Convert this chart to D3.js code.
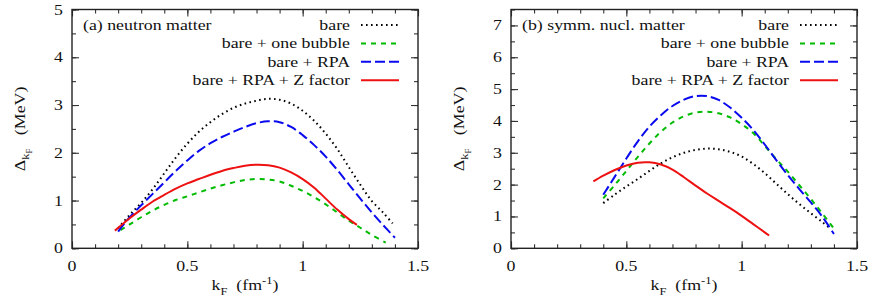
<!DOCTYPE html>
<html>
<head>
<meta charset="utf-8">
<script src="https://cdn.jsdelivr.net/npm/d3@7"></script>
<style>
  body { margin: 0; background: #fff; }
</style>
</head>
<body>
<svg id="chart" width="872" height="303"></svg>
<script>
// ---- data: [kF (fm^-1), gap (MeV)] ----
var neutronBare = [[0.20,0.42],[0.25,0.70],[0.30,0.95],[0.35,1.24],[0.40,1.57],[0.45,1.90],[0.50,2.19],[0.55,2.44],[0.60,2.64],[0.65,2.81],[0.70,2.94],[0.75,3.03],[0.80,3.09],[0.85,3.13],[0.90,3.11],[0.95,3.03],[1.00,2.88],[1.05,2.67],[1.10,2.40],[1.15,2.08],[1.20,1.70],[1.25,1.33],[1.30,0.99],[1.35,0.74],[1.39,0.52]];
var neutronBubble = [[0.21,0.38],[0.25,0.50],[0.30,0.65],[0.35,0.79],[0.40,0.91],[0.45,1.01],[0.50,1.09],[0.55,1.17],[0.60,1.25],[0.65,1.32],[0.70,1.38],[0.75,1.43],[0.80,1.45],[0.85,1.44],[0.90,1.40],[0.95,1.31],[1.00,1.20],[1.05,1.07],[1.10,0.92],[1.15,0.75],[1.20,0.58],[1.25,0.43],[1.30,0.28],[1.36,0.12]];
var neutronRPA = [[0.20,0.35],[0.25,0.65],[0.30,0.90],[0.35,1.14],[0.40,1.38],[0.45,1.62],[0.50,1.84],[0.55,2.04],[0.60,2.20],[0.65,2.33],[0.70,2.44],[0.75,2.54],[0.80,2.62],[0.85,2.66],[0.90,2.64],[0.95,2.54],[1.00,2.37],[1.05,2.16],[1.10,1.92],[1.15,1.64],[1.20,1.34],[1.25,1.04],[1.30,0.75],[1.35,0.48],[1.40,0.22]];
var neutronZ = [[0.186,0.37],[0.25,0.63],[0.30,0.81],[0.35,0.98],[0.40,1.12],[0.45,1.25],[0.50,1.36],[0.55,1.45],[0.60,1.54],[0.65,1.62],[0.70,1.68],[0.75,1.73],[0.80,1.75],[0.85,1.74],[0.90,1.69],[0.95,1.59],[1.00,1.45],[1.05,1.27],[1.10,1.04],[1.15,0.81],[1.20,0.61],[1.235,0.49]];

var nuclBare = [[0.40,1.42],[0.45,1.69],[0.50,1.94],[0.55,2.18],[0.60,2.43],[0.65,2.67],[0.70,2.86],[0.75,3.00],[0.80,3.09],[0.85,3.13],[0.90,3.11],[0.95,3.03],[1.00,2.88],[1.05,2.65],[1.10,2.36],[1.15,2.03],[1.20,1.70],[1.25,1.39],[1.30,1.10],[1.35,0.82],[1.385,0.62]];
var nuclBubble = [[0.40,1.57],[0.45,1.99],[0.50,2.43],[0.55,2.87],[0.60,3.29],[0.65,3.66],[0.70,3.95],[0.75,4.15],[0.80,4.26],[0.85,4.29],[0.90,4.24],[0.95,4.11],[1.00,3.90],[1.05,3.62],[1.10,3.22],[1.15,2.80],[1.20,2.41],[1.25,1.98],[1.30,1.55],[1.35,1.09],[1.40,0.62]];
var nuclRPA = [[0.40,1.68],[0.45,2.25],[0.50,2.82],[0.55,3.36],[0.60,3.82],[0.65,4.18],[0.70,4.47],[0.75,4.67],[0.80,4.78],[0.85,4.78],[0.90,4.66],[0.95,4.42],[1.00,4.10],[1.05,3.72],[1.10,3.26],[1.15,2.77],[1.20,2.30],[1.25,1.86],[1.30,1.44],[1.35,0.99],[1.40,0.45]];
var nuclZ = [[0.357,2.10],[0.40,2.28],[0.45,2.46],[0.50,2.60],[0.55,2.69],[0.60,2.70],[0.65,2.63],[0.70,2.47],[0.75,2.23],[0.80,1.97],[0.85,1.72],[0.90,1.49],[0.95,1.26],[1.00,1.02],[1.05,0.76],[1.10,0.50],[1.119,0.40]];

var seriesNames = ["bare", "bare + one bubble", "bare + RPA", "bare + RPA + Z factor"];
var xTicks = [0, 0.5, 1, 1.5];
var yTicksA = [0, 1, 2, 3, 4, 5];
var yTicksB = [0, 1, 2, 3, 4, 5, 6, 7];

var styles = [
  {color: "#000000", dash: "1.6,3.4"},
  {color: "#00bb00", dash: "5,5"},
  {color: "#0a0aee", dash: "10,4"},
  {color: "#ee1111", dash: null}
];

var svg = d3.select("#chart");
var FONT = "Liberation Serif";
var FS = 15.5, SX = 1.15;  // picture is a bit stretched sideways

function label(g, x, y, txt, anchor){
  return g.append("text")
    .attr("transform", `translate(${x},${y}) scale(${SX},1)`)
    .attr("text-anchor", anchor || "start")
    .attr("font-family", FONT)
    .attr("font-size", FS)
    .attr("fill", "#111")
    .text(txt);
}

function drawPanel(opt){
  var x = d3.scaleLinear().domain([0, 1.5]).range([opt.left, opt.right]);
  var y = d3.scaleLinear().domain([0, opt.ymax]).range([opt.bottom, opt.top]);
  var g = svg.append("g");

  var minorX = d3.range(0, 1.501, 0.1);
  var minorY = d3.range(0, opt.ymax + 0.001, 0.5);

  // inward ticks, mirrored on all four sides
  var ax = g.append("g");
  ax.append("g").attr("transform", `translate(0,${opt.bottom})`)
    .call(d3.axisBottom(x).tickValues(minorX).tickSize(-4).tickFormat(""));
  ax.append("g").attr("transform", `translate(0,${opt.bottom})`)
    .call(d3.axisBottom(x).tickValues(xTicks).tickSize(-7).tickFormat(""));
  ax.append("g").attr("transform", `translate(0,${opt.top})`)
    .call(d3.axisTop(x).tickValues(minorX).tickSize(-4).tickFormat(""));
  ax.append("g").attr("transform", `translate(0,${opt.top})`)
    .call(d3.axisTop(x).tickValues(xTicks).tickSize(-7).tickFormat(""));
  ax.append("g").attr("transform", `translate(${opt.left},0)`)
    .call(d3.axisLeft(y).tickValues(minorY).tickSize(-4).tickFormat(""));
  ax.append("g").attr("transform", `translate(${opt.left},0)`)
    .call(d3.axisLeft(y).tickValues(opt.yTicks).tickSize(-7).tickFormat(""));
  ax.append("g").attr("transform", `translate(${opt.right},0)`)
    .call(d3.axisRight(y).tickValues(minorY).tickSize(-4).tickFormat(""));
  ax.append("g").attr("transform", `translate(${opt.right},0)`)
    .call(d3.axisRight(y).tickValues(opt.yTicks).tickSize(-7).tickFormat(""));
  ax.selectAll(".domain").remove();
  ax.selectAll(".tick text").remove();
  ax.selectAll(".tick line").attr("stroke", "#333").attr("stroke-width", 1.1);

  g.append("rect")
    .attr("x", opt.left).attr("y", opt.top)
    .attr("width", opt.right - opt.left).attr("height", opt.bottom - opt.top)
    .attr("fill", "none").attr("stroke", "#222").attr("stroke-width", 1.4);

  xTicks.forEach(v => label(g, x(v), opt.bottom + 23, String(v), "middle"));
  opt.yTicks.forEach(v => label(g, opt.left - 9, y(v) + 5, String(v), "end"));

  // curves
  var line = d3.line().x(d => x(d[0])).y(d => y(d[1])).curve(d3.curveCatmullRom.alpha(0.5));
  opt.series.forEach((s, i) => {
    g.append("path").datum(s)
      .attr("d", line)
      .attr("fill", "none")
      .attr("stroke", styles[i].color)
      .attr("stroke-width", 2)
      .attr("stroke-dasharray", styles[i].dash);
  });

  // legend
  seriesNames.forEach((name, i) => {
    var yy = 30 + i * 18.4;
    label(g, opt.legendX, yy, name, "end");
    g.append("line")
      .attr("x1", opt.legendX + 11).attr("x2", opt.legendX + 49)
      .attr("y1", yy - 5).attr("y2", yy - 5)
      .attr("stroke", styles[i].color)
      .attr("stroke-width", 2)
      .attr("stroke-dasharray", styles[i].dash);
  });
  label(g, opt.left + 11, 30, opt.title, "start");

  // axis titles
  var xt = g.append("text")
    .attr("transform", `translate(${(opt.left + opt.right) / 2},${290}) scale(${SX},1)`)
    .attr("text-anchor", "middle").attr("font-size", FS).attr("font-family", FONT).attr("fill", "#111");
  xt.append("tspan").text("k");
  xt.append("tspan").attr("font-size", FS * 0.7).attr("dy", 5).text("F");
  xt.append("tspan").attr("dy", -5).text("\u00a0\u00a0(fm");
  xt.append("tspan").attr("font-size", FS * 0.7).attr("dy", -6).text("-1");
  xt.append("tspan").attr("dy", 6).text(")");

  var cy = (opt.top + opt.bottom) / 2;
  var yt = g.append("text")
    .attr("transform", `translate(${opt.left - 47},${cy}) rotate(-90) scale(${SX},1)`)
    .attr("text-anchor", "middle").attr("font-size", FS).attr("font-family", FONT).attr("fill", "#111");
  yt.append("tspan").text("\u0394");
  yt.append("tspan").attr("font-size", FS * 0.7).attr("dy", 4).text("k");
  yt.append("tspan").attr("font-size", FS * 0.5).attr("dy", 3).text("F");
  yt.append("tspan").attr("dy", -7).text("\u00a0\u00a0\u00a0(MeV)");
}

drawPanel({
  left: 72, right: 418, top: 9.5, bottom: 248.3, ymax: 5, yTicks: yTicksA,
  series: [neutronBare, neutronBubble, neutronRPA, neutronZ],
  legendX: 350, title: "(a) neutron matter"
});
drawPanel({
  left: 511, right: 857, top: 9.5, bottom: 248.3, ymax: 7.5, yTicks: yTicksB,
  series: [nuclBare, nuclBubble, nuclRPA, nuclZ],
  legendX: 789, title: "(b) symm. nucl. matter"
});
</script>
</body>
</html>
